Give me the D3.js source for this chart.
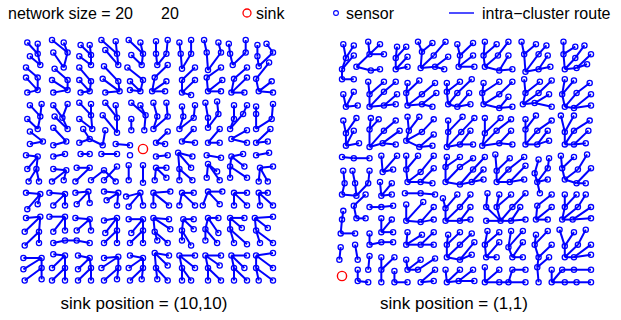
<!DOCTYPE html>
<html>
<head>
<meta charset="utf-8">
<script src="https://cdn.jsdelivr.net/npm/d3@7"></script>
<style>
  body { margin: 0; background: #fff; }
  svg { display: block; }
  text { font-family: "Liberation Sans", Arial, sans-serif; fill: #000; }
</style>
</head>
<body>
<svg id="chart" width="621" height="320"></svg>
<script>
// ---- network description -------------------------------------------------
const networkSize = [20, 20];
const sinkCentre = [10, 10];
const sinkCorner = [1, 1];

// sensor offsets from their grid cell, in tenths of a cell
// (x to the right, y downwards on screen), rows listed top to bottom
const jitterX = [
  [1,-1,0,-1,2,-1,-2,-1,-1,-2, 0,-1,-2,-3,-3,-2,-4,-1,-2,-5],
  [3,-1,1,2,1,0,1,0,1,0, 0,-2,-1,-3,-1,0,-3,-1,-2,0],
  [0,1,2,-1,1,0,0,1,-2,-1, 1,-1,0,0,0,0,-1,0,-1,-3],
  [0,-1,0,2,1,0,-1,1,0,0, -1,-2,0,0,-1,1,0,0,-3,-1],
  [1,-1,1,2,2,-1,1,2,0,-2, -3,-3,0,-3,0,0,-2,-2,-1,0],
  [3,2,1,2,1,0,1,-1,1,-2, -2,-2,0,0,-2,-3,0,0,-3,0],
  [1,1,2,-2,1,0,-1,0,1,2, 1,-1,1,-1,0,-2,0,-3,-3,-1],
  [3,-1,1,2,4,1,1,0,1,1, -2,-1,-2,-1,0,-1,-3,0,-3,-2],
  [3,3,1,1,1,-1,-1,-1,0,0, 0,-3,0,0,0,-1,-2,0,-3,-4],
  [0,-1,1,0,2,-1,-2,0,0,0, 0,-1,-3,-2,-1,0,-2,-3,-3,-3],
  [1,-2,1,1,-1,-1,0,0,-1,0, 0,-2,-2,-3,0,-3,-3,-2,0,0],
  [2,0,0,-1,-2,0,0,-1,-1,0, -1,-2,-2,-2,-1,-1,-3,0,-1,-4],
  [0,1,-2,0,-2,-2,0,1,-3,-2, -2,1,0,-1,0,1,0,0,-1,-4],
  [1,-1,1,0,-1,-1,2,0,-1,0, -2,0,-2,0,-4,-1,0,0,0,0],
  [0,1,-2,0,-2,-1,0,0,-1,0, -2,0,1,-1,0,-2,-3,-2,-4,0],
  [-1,0,1,0,-1,0,1,0,1,0, -1,1,0,-1,-2,-2,-3,-4,-3,-4],
  [-1,0,1,0,-1,-1,0,0,0,0, 1,-1,0,-3,-2,-3,0,0,0,0],
  [-2,2,1,0,0,-1,0,1,0,0, -1,0,-2,0,-2,0,-2,0,-3,0],
  [-2,2,0,0,0,0,-2,1,-1,0, 0,-1,0,0,0,-1,0,-2,-3,0],
  [-1,2,0,0,0,0,0,0,0,-1, 1,-1,0,-3,0,0,0,0,-1,0]
];
const jitterY = [
  [5,6,3,5,7,7,3,4,3,5, 4,3,5,3,3,5,6,3,7,6],
  [6,4,3,3,6,5,1,4,5,4, 4,4,4,4,3,3,4,3,6,3],
  [5,3,6,5,5,3,4,3,5,3, 3,3,6,5,7,5,3,5,4,1],
  [3,3,5,5,5,6,4,6,6,5, 3,6,5,5,3,5,4,3,4,6],
  [5,3,5,3,5,4,5,4,3,4, 4,4,5,7,4,4,5,5,4,5],
  [5,4,5,4,3,4,3,5,3,5, 3,3,6,5,3,2,5,5,6,4],
  [6,4,4,5,6,3,3,5,6,3, 4,4,4,5,5,2,6,2,2,6],
  [6,4,3,4,4,4,5,7,5,5, 4,6,4,4,3,4,4,5,4,4],
  [6,4,7,4,5,2,7,6,7,5, 5,6,4,5,5,5,2,5,5,4],
  [5,6,6,4,4,4,4,4,5,5, 6,5,3,6,5,7,6,4,5,3],
  [6,6,6,7,5,5,7,4,3,3, 5,5,6,5,2,8,4,4,5,4],
  [6,6,6,5,6,5,5,6,5,7, 5,3,5,5,3,5,3,3,6,6],
  [5,6,5,6,5,4,4,5,8,5, 5,4,5,5,4,4,5,5,5,5],
  [8,4,5,5,4,3,1,5,6,5, 5,5,5,5,5,4,5,5,5,5],
  [5,4,4,4,5,6,7,5,6,6, 5,6,6,6,5,5,5,5,5,4],
  [6,6,6,5,5,5,7,5,7,5, 6,4,5,4,4,7,4,3,5,3],
  [7,5,5,3,3,5,5,5,5,5, 3,5,3,7,3,5,5,6,5,5],
  [7,7,4,5,5,7,7,6,5,7, 3,5,5,5,5,5,5,5,5,3],
  [6,5,5,5,6,5,5,5,5,5, 5,3,5,5,5,3,5,5,5,5],
  [5,4,5,5,5,5,5,4,5,4, 4,5,5,5,5,5,5,5,5,5]
];

// next hop of every sensor inside its cluster, as keypad directions
// (7 8 9 / 4 . 6 / 1 2 3 on screen); 0 = cluster head, -1 = no sensor
const routesCentre = [
  [3,2,3,2,3,2,3,2,3,2, 2,2,2,2,2,2,2,2,2,2],
  [3,2,3,2,3,2,3,2,3,2, 2,1,2,1,2,1,2,1,2,1],
  [3,0,3,0,3,0,3,0,3,0, 0,1,0,1,0,1,0,1,0,1],
  [3,2,3,2,3,2,3,2,3,2, 2,1,2,1,2,1,2,1,2,1],
  [6,0,6,0,6,0,6,0,6,0, 0,4,0,4,0,4,0,4,0,4],
  [3,2,3,2,3,2,3,2,3,2, 2,2,2,2,2,2,2,2,2,2],
  [3,2,3,2,3,2,3,2,2,2, 2,1,2,1,2,1,2,1,2,1],
  [3,0,3,0,3,0,2,0,0,0, 0,1,0,1,0,1,0,1,0,1],
  [6,0,6,0,6,6,0,6,0,-1, 0,4,0,4,0,4,0,4,0,4],
  [6,0,6,0,6,0,6,0,0,-1, 0,4,0,4,0,4,0,4,0,4],
  [9,8,6,0,6,0,0,0,0,0, 0,4,8,7,0,4,8,7,0,4],
  [9,8,9,8,9,9,9,7,8,8, 8,7,8,7,8,7,8,7,8,7],
  [6,0,6,0,6,0,6,0,6,0, 0,4,0,4,0,4,0,4,0,4],
  [9,8,9,8,9,8,9,8,9,8, 8,7,8,7,8,7,8,7,8,7],
  [6,0,6,0,6,0,6,0,6,0, 0,4,0,4,0,4,0,4,0,4],
  [9,8,9,8,9,8,9,8,9,8, 8,7,8,7,8,7,8,7,8,7],
  [9,8,6,6,6,0,9,8,9,8, 8,7,8,7,8,7,8,7,8,7],
  [6,0,6,0,6,0,6,0,6,0, 0,4,0,4,0,4,0,4,0,4],
  [9,8,9,8,9,8,9,8,9,8, 8,7,8,7,8,7,8,7,8,7],
  [9,8,9,8,9,8,9,8,9,8, 8,7,8,7,8,7,8,7,8,7]
];
const routesCorner = [
  [2, 1,2,1, 2,1, 2,1,1, 2,1, 2,1,1, 2,1,1, 2,1,1],
  [2, 1,1,4, 2,1, 2,1,1, 2,1, 2,1,1, 2,1,1, 2,1,1],
  [2, 0,4,4, 0,4, 0,4,4, 0,4, 0,4,4, 0,4,4, 0,4,4],
  [0,4, 2,1,1, 2,1,1, 2,1,1, 2,1,1, 2,1,1, 2,1,1],
  [2,1, 2,1,1, 2,1,1, 2,1,1, 2,1,1, 2,1,1, 2,1,1],
  [0,4, 0,4,4, 0,4,4, 0,4,4, 0,4,4, 0,4,4, 0,4,4],
  [2,1, 2,1,1, 2,1,1, 2,1,1, 2,1,1, 2,1,1, 2,1,1],
  [2,1, 2,1,1, 2,1,1, 2,1,1, 2,1,1, 2,1,1, 2,1,1],
  [0,4, 0,4,4, 0,4,4, 0,4,4, 0,4,4, 0,4,4, 0,4,4],
  [0,4, 4,2,1, 2,1,1, 2,1,1, 1,2,1,1,2,2,2,1,1],
  [2,2, 2,0,4, 2,1,1, 2,1,1, 1,2,1,1,2,1,2,1,1],
  [2,2, 1,2,1, 0,4,4, 0,4,4, 4,0,4,4,2,4,0,4,4],
  [0,4, 1,0,4, 0,4,4, 2,1,1, 2,2,1,1,0,1,2,1,1],
  [2,2, 0,4,4, 2,1,1, 2,1,1, 3,2,1,1,2,1,2,1,1],
  [2,0, 4,2,1, 0,4,4, 0,4,4, 6,0,4,4,0,4,0,4,4],
  [0,4, 2,0,4, 2,1,1, 2,1,1, 2,1,2,1,2,1,2,1,1],
  [2,2, 0,4,4, 0,4,4, 2,1,1, 2,1,2,1,2,1,2,1,1],
  [0,0, 2,2,1, 2,1,1, 0,4,4, 0,4,0,4,2,1,0,4,4],
  [-1,2, 0,2,2, 0,4,1, 2,1,1, 2,1,2,4,0,2,1,4,4],
  [-1,6, 0,0,0, 4,0,4, 0,4,4, 0,4,4,4,8,0,4,4,4]
];

const legendLabels = ["sink", "sensor", "intra\u2212cluster route"];
const panelCaptions = ["sink position = (10,10)", "sink position = (1,1)"];

// ---- drawing --------------------------------------------------------------
const BLUE = "#0000ff", RED = "#ff0000";
const svg = d3.select("#chart");

const keypad = {7:[-1,-1], 8:[0,-1], 9:[1,-1], 4:[-1,0], 6:[1,0], 1:[-1,1], 2:[0,1], 3:[1,1]};

function buildNetwork(routes) {
  const sensors = [], byCell = new Map();
  routes.forEach((row, ri) => row.forEach((code, ci) => {
    if (code < 0) return;
    const s = { col: ci + 1, row: ri + 1, jx: jitterX[ri][ci] / 10, jy: jitterY[ri][ci] / 10, code };
    sensors.push(s);
    byCell.set(s.col + "," + s.row, s);
  }));
  const links = [];
  sensors.forEach(s => {
    if (s.code === 0) return;
    let dc = 0, dr = 0;
    String(s.code).split("").forEach(d => { dc += keypad[d][0]; dr += keypad[d][1]; });
    const p = byCell.get((s.col + dc) + "," + (s.row + dr));
    if (p) links.push([s, p]);
  });
  return { sensors, links };
}

function drawPanel(routes, sink, x, y, fieldX, fieldY, caption, captionX) {
  const net = buildNetwork(routes);
  const g = svg.append("g");
  const px = s => x(fieldX(s)), py = s => y(fieldY(s));
  g.selectAll("line.route").data(net.links).join("line")
    .attr("class", "route")
    .attr("x1", d => px(d[0])).attr("y1", d => py(d[0]))
    .attr("x2", d => px(d[1])).attr("y2", d => py(d[1]))
    .attr("stroke", BLUE).attr("stroke-width", 2);
  g.selectAll("circle.sensor").data(net.sensors).join("circle")
    .attr("class", "sensor")
    .attr("cx", px).attr("cy", py).attr("r", 2.6)
    .attr("fill", "none").attr("stroke", BLUE).attr("stroke-width", 1.3);
  g.append("circle")
    .attr("cx", x(sink[0])).attr("cy", y(sink[1])).attr("r", 4.6)
    .attr("fill", "none").attr("stroke", RED).attr("stroke-width", 1.4);
  g.append("text").attr("x", captionX).attr("y", 309)
    .attr("text-anchor", "middle").attr("font-size", 17).text(caption);
}

// left panel: sink in the middle of the field, rows counted downward
const x1 = d3.scaleLinear().domain([1, 20]).range([26, 273]);
const y1 = d3.scaleLinear().domain([10, 20]).range([149, 274.3]);
drawPanel(routesCentre, sinkCentre, x1, y1,
  s => s.col + s.jx, s => s.row + s.jy, panelCaptions[0], 144);

// right panel: sink at the lower-left corner, rows counted upward
const x2 = d3.scaleLinear().domain([1, 20]).range([342, 591]);
const y2 = d3.scaleLinear().domain([1, 20]).range([276, 37.9]);
drawPanel(routesCorner, sinkCorner, x2, y2,
  s => s.col + s.jx, s => (networkSize[1] + 1 - s.row) - s.jy, panelCaptions[1], 454);

// ---- legend -----------------------------------------------------------------
const lg = svg.append("g").attr("font-size", 16);
lg.append("text").attr("x", 8).attr("y", 19).text("network size = " + networkSize[0]);
lg.append("text").attr("x", 161).attr("y", 19).text(networkSize[1]);
lg.append("circle").attr("cx", 247).attr("cy", 13).attr("r", 4)
  .attr("fill", "none").attr("stroke", RED).attr("stroke-width", 1.3);
lg.append("text").attr("x", 256).attr("y", 19).text(legendLabels[0]);
lg.append("circle").attr("cx", 336).attr("cy", 13).attr("r", 2.4)
  .attr("fill", "none").attr("stroke", BLUE).attr("stroke-width", 1.1);
lg.append("text").attr("x", 346).attr("y", 19).text(legendLabels[1]);
lg.append("line").attr("x1", 449).attr("x2", 474).attr("y1", 13).attr("y2", 13)
  .attr("stroke", BLUE).attr("stroke-width", 1.4);
lg.append("text").attr("x", 482).attr("y", 19).text(legendLabels[2]);
</script>
</body>
</html>
